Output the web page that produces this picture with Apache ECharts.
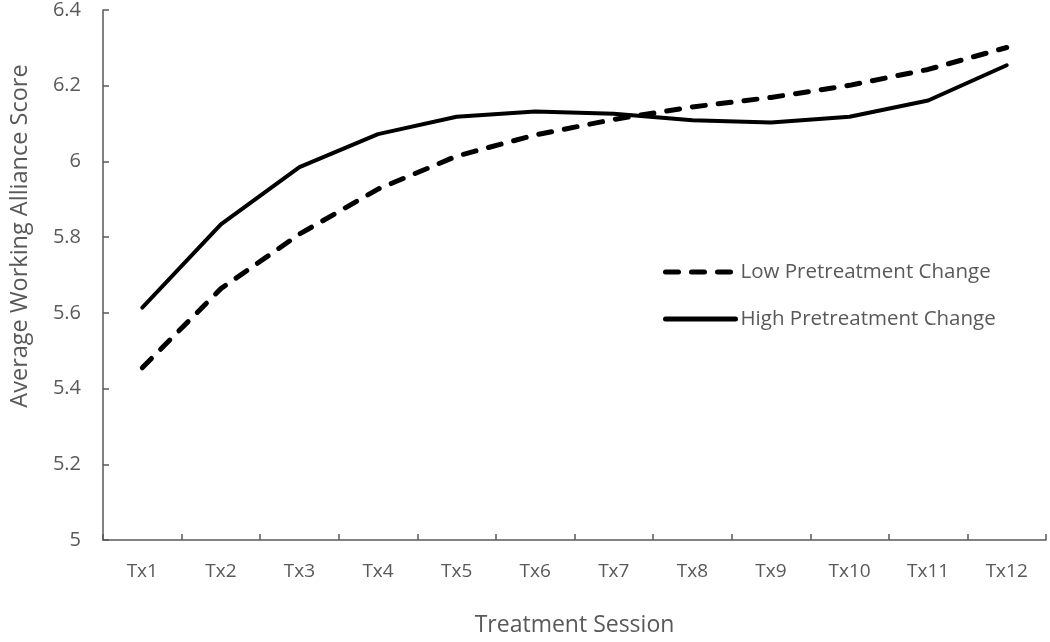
<!DOCTYPE html>
<html>
<head>
<meta charset="utf-8">
<script src="https://cdn.jsdelivr.net/npm/echarts@6/dist/echarts.min.js"></script>
<style>
html,body{margin:0;padding:0;background:#fff;}
#chart{width:1050px;height:642px;}
</style>
</head>
<body>
<div id="chart"></div>
<script>
const categories = ['Tx1','Tx2','Tx3','Tx4','Tx5','Tx6','Tx7','Tx8','Tx9','Tx10','Tx11','Tx12'];
const lowChange  = [5.455, 5.664, 5.808, 5.927, 6.014, 6.070, 6.111, 6.144, 6.169, 6.201, 6.243, 6.301];
const highChange = [5.614, 5.834, 5.985, 6.072, 6.118, 6.132, 6.126, 6.109, 6.103, 6.118, 6.161, 6.254];
const seriesNames = ['Low Pretreatment Change', 'High Pretreatment Change'];
const yTicks = { min: 5, max: 6.4, step: 0.2 };

const FONT = '"Open Sans", sans-serif';
const GRAY = '#595959';
const chart = echarts.init(document.getElementById('chart'), null, { renderer: 'canvas' });
chart.setOption({
  animation: false,
  backgroundColor: '#ffffff',
  grid: { left: 99, right: 4, top: 10, bottom: 91, containLabel: false },
  legend: {
    orient: 'vertical',
    left: 658,
    top: 255,
    itemWidth: 70,
    itemHeight: 14,
    itemGap: 23,
    itemStyle: { opacity: 0 },
    lineStyle: { width: 5 },
    textStyle: { fontFamily: FONT, fontSize: 20.5, color: GRAY, lineHeight: 24, padding: [0, 0, 0, 0] },
    data: seriesNames
  },
  xAxis: {
    type: 'category',
    data: categories,
    boundaryGap: true,
    name: 'Treatment Session',
    nameLocation: 'middle',
    nameGap: 74,
    nameTextStyle: { fontFamily: FONT, fontSize: 23, color: GRAY },
    axisLine: { lineStyle: { color: GRAY, width: 1.5 } },
    axisTick: { show: true, inside: true, length: 6, alignWithLabel: false, lineStyle: { color: GRAY, width: 1.5 } },
    axisLabel: { fontFamily: FONT, fontSize: 19, color: GRAY, margin: 22 },
    splitLine: { show: false }
  },
  yAxis: {
    type: 'value',
    min: yTicks.min,
    max: yTicks.max,
    interval: yTicks.step,
    name: 'Average Working Alliance Score',
    nameLocation: 'middle',
    nameGap: 71,
    nameTextStyle: { fontFamily: FONT, fontSize: 23.5, color: GRAY, padding: [0, 0, 0, 78] },
    axisLine: { show: true, lineStyle: { color: GRAY, width: 1.5 } },
    axisTick: { show: true, inside: true, length: 6, lineStyle: { color: GRAY, width: 1.5 } },
    axisLabel: { fontFamily: FONT, fontSize: 20, color: GRAY, margin: 22, formatter: v => String(+v.toFixed(1)) },
    splitLine: { show: false }
  },
  series: [
    {
      name: seriesNames[0],
      type: 'line',
      data: lowChange,
      symbol: 'none',
      lineStyle: { color: '#000', width: 5, type: [13, 13], cap: 'round', join: 'round' },
      itemStyle: { color: '#000' }
    },
    {
      name: seriesNames[1],
      type: 'line',
      data: highChange,
      symbol: 'none',
      lineStyle: { color: '#000', width: 4, type: 'solid', cap: 'round', join: 'round' },
      itemStyle: { color: '#000' }
    }
  ]
});
</script>
</body>
</html>
